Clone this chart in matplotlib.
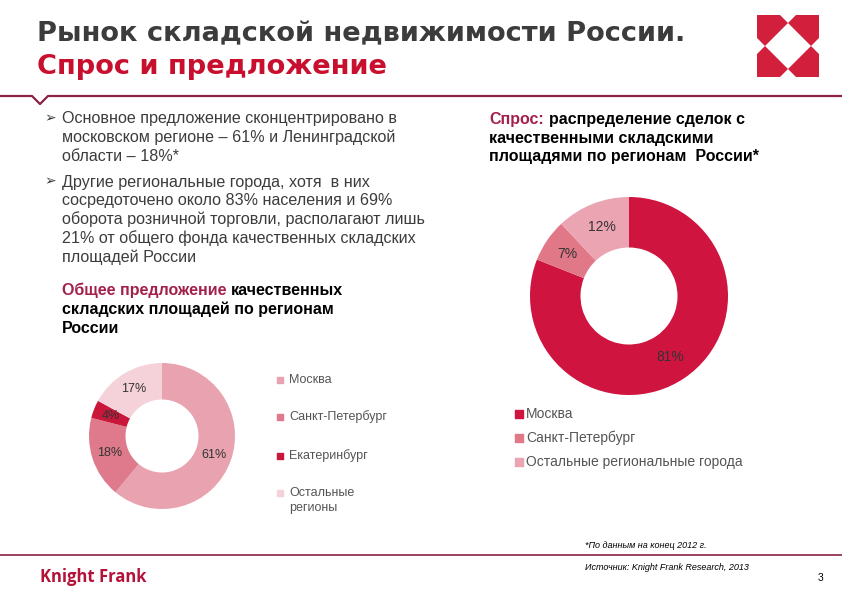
import matplotlib
matplotlib.use("Agg")
from matplotlib import pyplot as plt
from matplotlib.patches import Polygon
import numpy as np

plt.rcParams['font.family'] = ['Liberation Sans', 'DejaVu Sans']

# --- data ---
supply_labels = ['Москва', 'Санкт-Петербург', 'Екатеринбург', 'Остальные\nрегионы']
supply_values = [61, 18, 4, 17]
supply_colors = ['#E9A3B0', '#DE7A8B', '#C8173A', '#F5D2D9']

demand_labels = ['Москва', 'Санкт-Петербург', 'Остальные региональные города']
demand_values = [81, 7, 12]
demand_colors = ['#CF1440', '#E07887', '#EBA4B1']

bullets = [
    ['Основное предложение сконцентрировано в',
     'московском регионе – 61% и Ленинградской',
     'области – 18%*'],
    ['Другие региональные города, хотя  в них',
     'сосредоточено около 83% населения и 69%',
     'оборота розничной торговли, располагают лишь',
     '21% от общего фонда качественных складских',
     'площадей России'],
]

W, H = 842, 595
GRAY = '#3C3C3C'
RED = '#C8102E'
MAROON = '#8B2346'
HEAD_RED = '#A3204A'

fig = plt.figure(figsize=(W / 100, H / 100), dpi=100)
ax = fig.add_axes([0, 0, 1, 1])
ax.set_xlim(0, W)
ax.set_ylim(H, 0)
ax.axis('off')
renderer = fig.canvas.get_renderer()


def two_color(x, y, first, rest, fs):
    # first part coloured, the rest black, on one line
    t = ax.text(x, y, first, fontsize=fs, fontweight='bold', color=HEAD_RED,
                va='baseline')
    bb = t.get_window_extent(renderer)
    gap = fs * 100 / 72 * 0.3
    ax.text(x + bb.width + gap, y, rest, fontsize=fs, fontweight='bold',
            color='black', va='baseline')


# title (font size fitted so the first line spans the same width as the slide)
title_kw = dict(fontweight='bold', va='baseline', family=['DejaVu Sans'])
t1 = ax.text(37, 41.5, 'Рынок складской недвижимости России.', fontsize=19,
             color=GRAY, **title_kw)
fs_title = 19 * 652 / t1.get_window_extent(renderer).width
t1.set_fontsize(fs_title)
ax.text(37, 73.5, 'Спрос и предложение', fontsize=fs_title, color=RED,
        **title_kw)

# logo: red square with white diamond cut-outs
lx, ly, ls = 757, 15, 62
cx, cy = lx + ls / 2, ly + ls / 2
ax.add_patch(Polygon([(lx, ly), (lx + ls, ly), (lx + ls, ly + ls), (lx, ly + ls)],
                     closed=True, fc='#D21F3C', ec='none'))
r1 = 23
ax.add_patch(Polygon([(cx, cy - r1), (cx + r1, cy), (cx, cy + r1), (cx - r1, cy)],
                     closed=True, fc='white', ec='none'))
r2 = 8
for px, py in [(cx, ly), (cx, ly + ls), (lx, cy), (lx + ls, cy)]:
    ax.add_patch(Polygon([(px, py - r2), (px + r2, py), (px, py + r2), (px - r2, py)],
                         closed=True, fc='white', ec='none'))

# header rule with notch
ax.plot([0, 32, 40, 48, W], [96, 96, 104, 96, 96], color=MAROON, lw=1.6)

# bullets
y = 123
for para in bullets:
    ax.text(44, y - 1, '➢', fontsize=10, color=GRAY, va='baseline',
            family=['DejaVu Sans'])
    for line in para:
        ax.text(62, y, line, fontsize=11.6, color=GRAY, va='baseline')
        y += 18.8
    y += 7.2

# left chart heading
two_color(62, 295, 'Общее предложение', 'качественных', 11.5)
ax.text(62, 314, 'складских площадей по регионам', fontsize=11.5,
        fontweight='bold', color='black', va='baseline')
ax.text(62, 333, 'России', fontsize=11.5, fontweight='bold',
        color='black', va='baseline')

# right chart heading
two_color(489, 124, 'Спрос:', 'распределение сделок с', 11.5)
ax.text(489, 142.5, 'качественными складскими', fontsize=11.5,
        fontweight='bold', color='black', va='baseline')
ax.text(489, 161, 'площадями по регионам  России*', fontsize=11.5,
        fontweight='bold', color='black', va='baseline')


def donut(cxp, cyp, r, values, colors, width, fs):
    dax = fig.add_axes([(cxp - r) / W, 1 - (cyp + r) / H, 2 * r / W, 2 * r / H])
    dax.pie(values, colors=colors, startangle=90, counterclock=False,
            autopct='%d%%', pctdistance=0.75, radius=1,
            wedgeprops=dict(width=width, edgecolor='none'),
            textprops=dict(fontsize=fs, color='#333333'))
    dax.set_xlim(-1, 1)
    dax.set_ylim(-1, 1)
    dax.set_aspect('auto')
    dax.axis('off')
    return dax


donut(162, 436, 73, supply_values, supply_colors, 0.5, 9)
donut(629, 296, 99, demand_values, demand_colors, 0.51, 10)

# left legend
for lab, col, yy in zip(supply_labels, supply_colors, [380, 417, 456, 493]):
    ax.scatter([280], [yy], marker='s', s=18, color=col)
    parts = lab.split('\n')
    for k, p in enumerate(parts):
        ax.text(289, yy + 15 * k, p, fontsize=9, color='#555555', va='center')

# right legend
for lab, col, yy in zip(demand_labels, demand_colors, [414, 438, 462]):
    ax.scatter([519], [yy], marker='s', s=26, color=col)
    ax.text(526, yy, lab, fontsize=10, color='#555555', va='center')

# footer
ax.text(585, 545, '*По данным на конец 2012 г.', fontsize=6.5,
        style='italic', color='black', va='center')
ax.plot([0, W], [555, 555], color=MAROON, lw=1.2)
ax.text(585, 568, 'Источник: Knight Frank Research, 2013', fontsize=6.5,
        style='italic', color='black', va='center')
ax.text(40, 577, 'Knight Frank', fontsize=12, fontweight='bold',
        color='#B5123A', va='center', family=['Open Sans', 'DejaVu Sans'])
ax.text(818, 578, '3', fontsize=7.5, color='black', va='center')

fig.savefig('out.png', dpi=100)
